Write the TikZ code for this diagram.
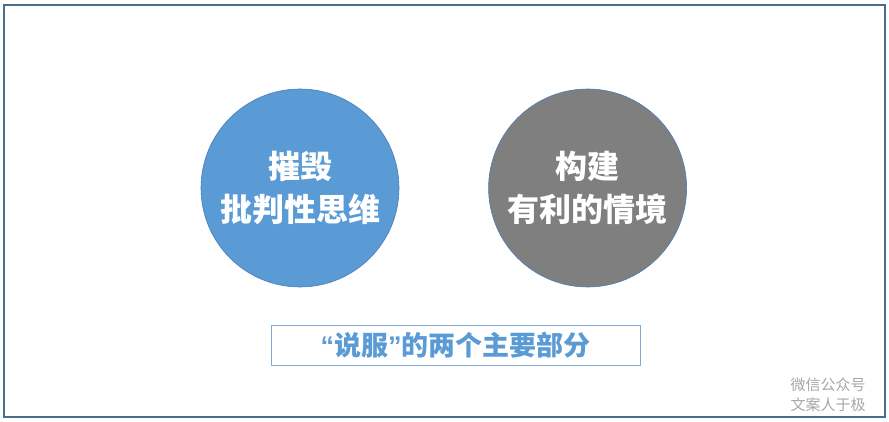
\documentclass[tikz,border=0pt]{standalone}
\usepackage{fontspec}
\newfontfamily\cjk{Noto Sans CJK SC}
\newfontfamily\latin{Liberation Sans}
\usetikzlibrary{positioning}
\definecolor{framecol}{HTML}{4A6E8A}
\definecolor{bluefill}{HTML}{5B9BD5}
\definecolor{bluedraw}{HTML}{4A7EBB}
\definecolor{grayfill}{HTML}{7F7F7F}
\definecolor{boxdraw}{HTML}{7EA6D6}
\definecolor{marktext}{HTML}{A6A6A6}

\begin{document}
\begin{tikzpicture}[x=1pt,y=-1pt,
  part/.style={circle,draw=bluedraw,line width=0.6pt,minimum size=198pt,inner sep=0pt,
    text=white,align=center,font=\cjk\bfseries\fontsize{32}{43}\selectfont},
  caption/.style={draw=boxdraw,line width=1pt,minimum width=369pt,minimum height=40pt,
    text=bluefill,font=\cjk\bfseries\fontsize{27}{28}\selectfont}]
\useasboundingbox (0,0) rectangle (889,422);
\draw[framecol,line width=2pt] (4,5) rectangle (885,417);
\node[part,fill=bluefill] at (300,188) (destroy){摧毁\\批判性思维};
\node[part,fill=grayfill, right = 89pt of destroy] (build){构建\\有利的情境};
\node[caption] at (455.5,345) (summary){{\latin\bfseries “}说服{\latin\bfseries ”}的两个主要部分};
\node[text=marktext,align=center,font=\cjk\fontsize{15}{20}\selectfont] at (828,395) (mark){微信公众号\\文案人于极};
\end{tikzpicture}
\end{document}
